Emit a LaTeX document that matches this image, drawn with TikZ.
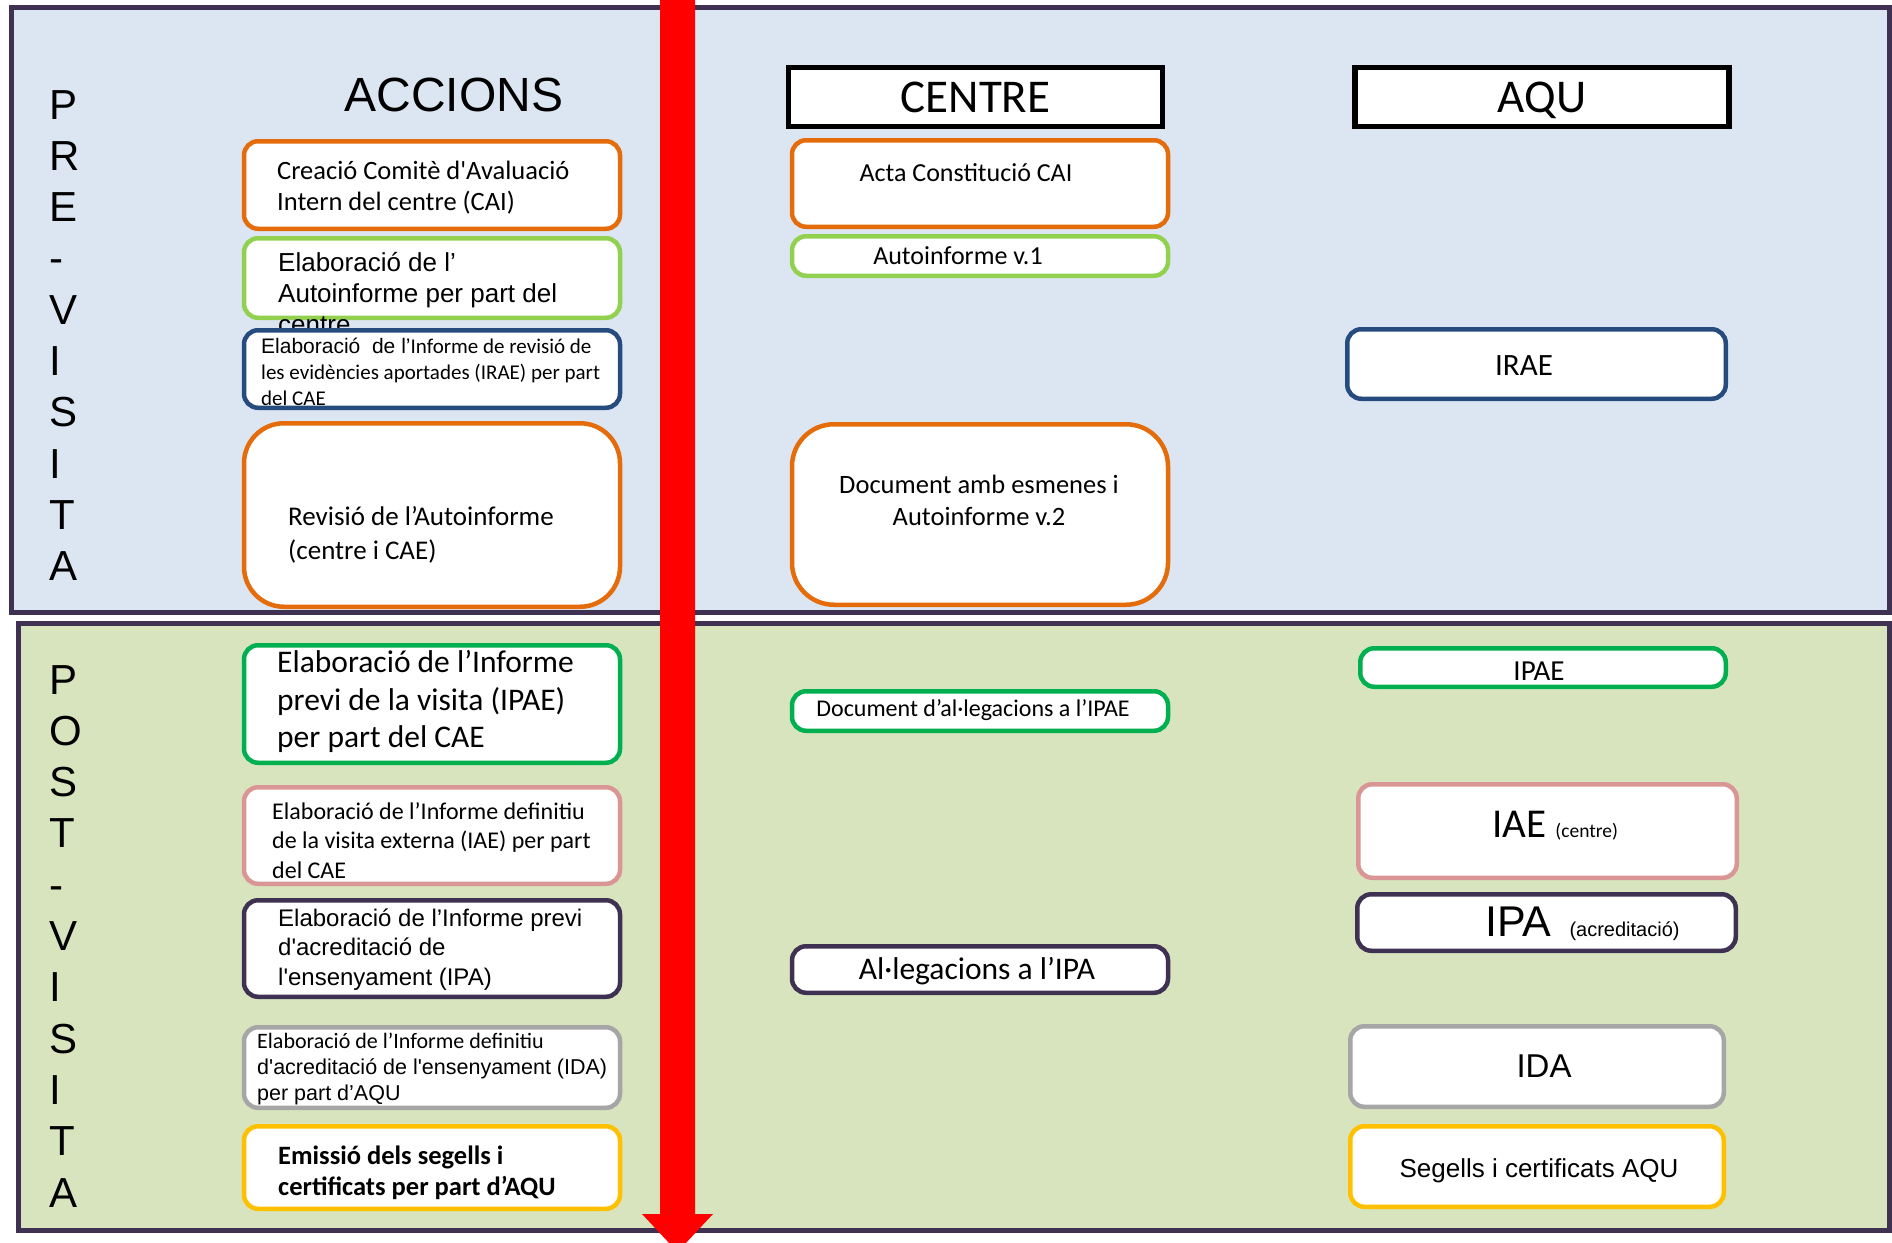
\documentclass[tikz,border=0pt]{standalone}
\usepackage{fontspec}
\setmainfont{Carlito}[Ligatures=TeXOff]
\newfontfamily\arialfont{Liberation Sans}[Ligatures=TeXOff]
\definecolor{frame}{HTML}{3F3151}
\definecolor{preblue}{HTML}{DCE6F2}
\definecolor{postgreen}{HTML}{D7E4BD}
\definecolor{orangeb}{HTML}{E46C0A}
\definecolor{limeb}{HTML}{92D050}
\definecolor{blueb}{HTML}{264B7E}
\definecolor{greenb}{HTML}{00B050}
\definecolor{pinkb}{HTML}{D99694}
\definecolor{greyb}{HTML}{A6A6A6}
\definecolor{goldb}{HTML}{FFC000}
\newcommand{\sz}[2]{\fontsize{#1}{#2}\selectfont}

\begin{document}
\begin{tikzpicture}[x=1pt, y=-1pt,
	panel/.style={draw=frame, line width=5pt, fill=#1},
	box/.style={draw=#1, line width=4.5pt, fill=white, rounded corners=14pt, inner sep=0pt},
	head/.style={draw=black, line width=5.5pt, fill=white, minimum width=374pt, minimum height=59pt, text depth=0pt, font=\sz{47}{56}},
	txt/.style={inner sep=0pt, align=left, anchor=north west},
	word/.style={inner sep=0pt, anchor=base},
	phase/.style={inner sep=0pt, anchor=base west, font=\arialfont\sz{42}{50}}]
		\useasboundingbox (0,0) rectangle (1892,1242);
		
		% two phases
		\draw[panel=preblue] (11.5,7) rectangle (1889.5,612.5);
		\draw[panel=postgreen] (18.5,623) rectangle (1889.5,1230.5);
		\foreach \c [count=\i from 0] in {P,R,E,-,V,I,S,I,T,A}
			\node[phase] (pre\i) at (49.5,119+51.3*\i) {\c};
		\foreach \c [count=\i from 0] in {P,O,S,T,-,V,I,S,I,T,A}
			\node[phase] (post\i) at (49.5,694+51.3*\i) {\c};
		
		% headings
		\node[word, font=\arialfont\sz{48}{56}] (accions) at (454,111) {ACCIONS};
		\node[head] (centre) at (975.5,97) {CENTRE};
		\node[head] (aqu) at (1542,97) {AQU};
		
		% accions
		\node[box=orangeb, minimum width=376pt, minimum height=87.5pt] (a1) at (432,185) {};
		\node[txt, font=\sz{26.5}{31}] (a1t) at (277,160.5) {Creació Comitè d'Avaluació\\Intern del centre (CAI)};
		\node[box=limeb, minimum width=376pt, minimum height=79.5pt] (a2) at (432,278) {};
		\node[txt, font=\arialfont\sz{26}{31}] (a2t) at (278,251.8) {Elaboració de l’\\Autoinforme per part del\\centre};
		\node[box=blueb, minimum width=376pt, minimum height=77.5pt] (a3) at (432,369) {};
		\node[txt, font=\sz{21}{26}] (a3t) at (261,337.5) {{\arialfont Elaboració\ \ de l’}Informe de revisió de\\les evidències aportades (IRAE) per part\\del CAE};
		\node[box=orangeb, rounded corners=40pt, minimum width=376pt, minimum height=183.5pt] (a4) at (432,515) {};
		\node[txt, font=\sz{27}{34}] (a4t) at (288,506) {Revisió de l’Autoinforme\\(centre i CAE)};
		\node[box=greenb, minimum width=376pt, minimum height=117.5pt] (a5) at (432,704) {};
		\node[txt, font=\sz{31.5}{37.5}] (a5t) at (277,650.5) {Elaboració de l’Informe\\previ de la visita (IPAE)\\per part del CAE};
		\node[box=pinkb, minimum width=376pt, minimum height=96.5pt] (a6) at (432,835.5) {};
		\node[txt, font=\sz{24}{29.5}] (a6t) at (272,802.2) {Elaboració de l’Informe definitiu\\de la visita externa (IAE) per part\\del CAE};
		\node[box=frame, minimum width=376pt, minimum height=96.5pt] (a7) at (432,948.5) {};
		\node[txt, font=\arialfont\sz{24}{29.5}] (a7t) at (278,908.2) {Elaboració de l’Informe previ\\d'acreditació de\\l'ensenyament (IPA)};
		\node[box=greyb, minimum width=376pt, minimum height=80.5pt] (a8) at (432,1067.5) {};
		\node[txt, font=\sz{22}{26}] (a8t) at (257,1032.7) {Elaboració de l’Informe definitiu\\{\arialfont\sz{21.5}{26}d'acreditació de l'ensenyament (IDA)}\\{\arialfont\sz{21.5}{26}per part d’AQU}};
		\node[box=goldb, minimum width=376pt, minimum height=82.5pt] (a9) at (432,1167.5) {};
		\node[txt, font=\bfseries\sz{26.5}{31}] (a9t) at (278,1145.5) {Emissió dels segells i\\certificats per part d’AQU};
		
		% centre
		\node[box=orangeb, minimum width=376pt, minimum height=86.5pt] (c1) at (980,183.5) {};
		\node[word, font=\sz{26}{31}] (c1t) at (966,181) {Acta Constitució CAI};
		\node[box=limeb, minimum width=376pt, minimum height=39.5pt] (c2) at (980,256) {};
		\node[word, font=\sz{26}{31}] (c2t) at (958,264) {Autoinforme v.1};
		\node[box=orangeb, rounded corners=42pt, minimum width=376pt, minimum height=180.5pt] (c3) at (980,514.5) {};
		\node[txt, anchor=north, align=center, font=\sz{26.5}{32}] (c3t) at (979,474.5) {Document amb esmenes i\\Autoinforme v.2};
		\node[box=greenb, minimum width=376pt, minimum height=39.5pt] (c4) at (980,711) {};
		\node[word, font=\sz{24}{28}] (c4t) at (973,716) {Document d’al·legacions a l’IPAE};
		\node[box=frame, minimum width=376pt, minimum height=46.5pt] (c5) at (980,969.5) {};
		\node[word, font=\sz{31.5}{37}] (c5t) at (977,979) {Al·legacions a l’IPA};
		
		% aqu
		\node[box=blueb, minimum width=378.5pt, minimum height=69.5pt] (q1) at (1536.5,364) {};
		\node[word, font=\sz{31}{37}] (q1t) at (1524,375) {IRAE};
		\node[box=greenb, minimum width=365.5pt, minimum height=38.5pt] (q2) at (1543,667.5) {};
		\node[word, font=\sz{29}{35}] (q2t) at (1539,680.5) {IPAE};
		\node[box=pinkb, minimum width=378.5pt, minimum height=93.5pt] (q3) at (1547.5,831) {};
		\node[word, font=\sz{41}{48}] (q3t) at (1555,837) {IAE {\sz{19.5}{23}(centre)}};
		\node[box=frame, minimum width=378.5pt, minimum height=56.5pt] (q4) at (1546.5,922.5) {};
		\node[word, font=\arialfont\sz{43}{50}] (q4t) at (1582.5,936) {IPA\hspace{18pt}{\sz{20}{24}(acreditació)}};
		\node[box=greyb, minimum width=373.5pt, minimum height=80.5pt] (q5) at (1537,1066.5) {};
		\node[word, font=\arialfont\sz{33}{40}] (q5t) at (1544,1077) {IDA};
		\node[box=goldb, minimum width=373.5pt, minimum height=80.5pt] (q6) at (1537,1166.5) {};
		\node[word, font=\arialfont\sz{26}{31}] (q6t) at (1539,1177) {Segells i certificats AQU};
		
		% time arrow
		\fill[red] (660,0) -- (695,0) -- (695,1214) -- (713,1214) -- (677.5,1252) -- (642,1214) -- (660,1214) -- cycle;
	\end{tikzpicture}
\end{document}
